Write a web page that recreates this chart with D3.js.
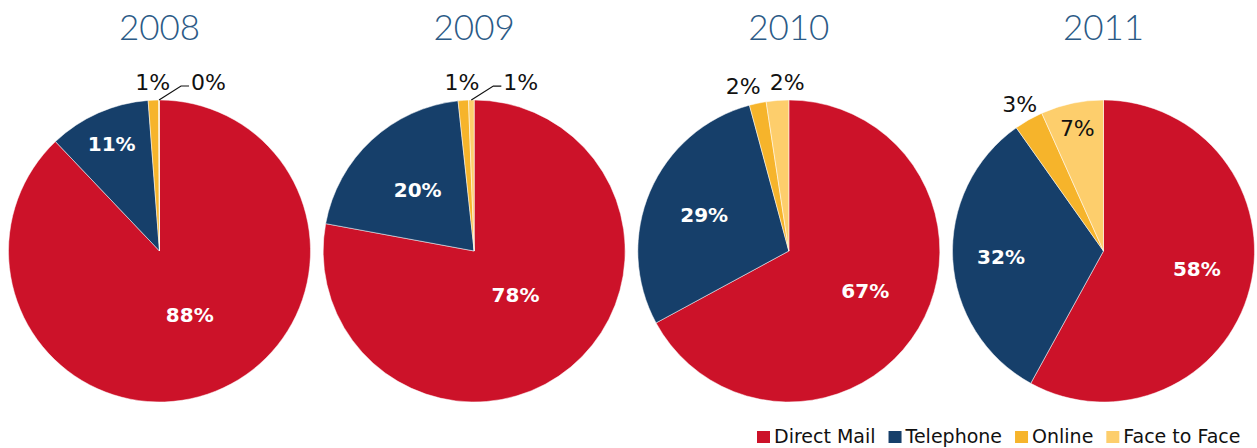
<!DOCTYPE html>
<html>
<head>
<meta charset="utf-8">
<script src="https://cdn.jsdelivr.net/npm/d3@7"></script>
<style>
  html, body { margin: 0; padding: 0; background: #fff; }
  svg { display: block; }
  .title { font-family: Lato, Roboto, "DejaVu Sans", sans-serif; font-weight: 300; font-size: 35px; fill: #2b5a86; }
  .lbl-in { font-family: "DejaVu Sans", sans-serif; font-weight: bold; font-size: 20px; fill: #fff; }
  .lbl-out { font-family: "DejaVu Sans", sans-serif; font-size: 22px; fill: #111; }
  .legend text { font-family: "DejaVu Sans", sans-serif; font-size: 19px; fill: #111; }
</style>
</head>
<body>
<svg id="chart" width="1257" height="448"></svg>
<script>
// data (percent shares, clockwise from 12 o'clock)
var years = ["2008", "2009", "2010", "2011"];
var channels = ["Direct Mail", "Telephone", "Online", "Face to Face"];
var share2008 = [87.9, 10.9, 1.1, 0.1];
var share2009 = [77.9, 20.4, 1.1, 0.6];
var share2010 = [67.1, 28.7, 1.8, 2.4];
var share2011 = [58.0, 32.2, 3.1, 6.7];
var shares = [share2008, share2009, share2010, share2011];

var colors = ["#cc1229", "#163f6a", "#f6b42b", "#fdce6c"];

// excel "best fit" radii for the big inside labels (fraction of radius)
var insideFrac = [[0.47, 0.78], [0.40, 0.55], [0.57, 0.61], [0.63, 0.68]];

var svg = d3.select("#chart");
var R = 151, cy = 251;

var x = d3.scalePoint().domain(years).range([159.5, 1103.5]);
var color = d3.scaleOrdinal().domain(channels).range(colors);

var pie = d3.pie().sort(null).value(function(d) { return d.v; });
var arc = d3.arc().innerRadius(0).outerRadius(R);

function polar(a, r) { return [r * Math.sin(a), -r * Math.cos(a)]; }

years.forEach(function(yr, yi) {
	var data = channels.map(function(c, i) { return {name: c, v: shares[yi][i]}; });
	var arcs = pie(data);
	var g = svg.append("g").attr("transform", "translate(" + x(yr) + "," + cy + ")");

	svg.append("text").attr("class", "title")
		.attr("x", x(yr)).attr("y", 40)
		.attr("text-anchor", "middle").text(yr);

	g.selectAll("path").data(arcs).enter().append("path")
		.attr("d", arc)
		.attr("fill", function(d) { return color(d.data.name); })
		.attr("stroke", "#fff").attr("stroke-width", 0.5);

	var outside = [];
	arcs.forEach(function(d, i) {
		var mid = (d.startAngle + d.endAngle) / 2;
		var pct = Math.round(d.data.v) + "%";
		var v = d.data.v;
		if (v >= 10) {
			// big slices: excel nudges the big one a bit toward 5 o'clock
			var a = i == 0 ? mid - 0.06 : mid;
			var p = polar(a, R * insideFrac[yi][i]);
			g.append("text").attr("class", "lbl-in")
				.attr("x", p[0]).attr("y", p[1]).attr("dy", "0.36em")
				.attr("text-anchor", "middle").text(pct);
		} else if (v >= 5) {
			var p = polar(mid, R * 0.83);
			g.append("text").attr("class", "lbl-out")
				.attr("x", p[0]).attr("y", p[1]).attr("dy", "0.36em")
				.attr("text-anchor", "middle").text(pct);
		} else if (v < 1) {
			// tiny slice: label pulled out with a leader line
			var e = polar(mid, R);
			var ex = e[0] + 22, ey = e[1] - 14;
			g.append("path")
				.attr("d", "M" + e[0] + "," + e[1] + "L" + ex + "," + ey + "H" + (ex + 8))
				.attr("fill", "none").attr("stroke", "#111").attr("stroke-width", 1.2);
			g.append("text").attr("class", "lbl-out")
				.attr("x", ex + 10).attr("y", ey - 4).attr("dy", "0.36em")
				.attr("text-anchor", "start").text(pct);
		} else {
			var p = polar(mid, R + 18);
			outside.push({x: p[0], y: p[1], t: pct});
		}
	});

	// push overlapping outside labels apart
	outside.sort(function(a, b) { return a.x - b.x; });
	for (var k = 1; k < outside.length; k++) {
		var gap = outside[k].x - outside[k - 1].x;
		if (gap < 44) {
			var s = (44 - gap) / 2;
			outside[k - 1].x -= s;
			outside[k].x += s;
		}
	}
	g.selectAll("text.lbl-o").data(outside).enter().append("text")
		.attr("class", "lbl-out lbl-o")
		.attr("x", function(d) { return d.x; })
		.attr("y", function(d) { return d.y; })
		.attr("dy", "0.36em")
		.attr("text-anchor", "middle")
		.text(function(d) { return d.t; });
});

// legend, bottom right
var legend = svg.append("g").attr("class", "legend");
var lx = 757;
channels.forEach(function(c) {
	var item = legend.append("g").attr("transform", "translate(" + lx + ",0)");
	item.append("rect").attr("x", 0).attr("y", 431).attr("width", 13).attr("height", 12)
		.attr("fill", color(c));
	var t = item.append("text").attr("x", 17).attr("y", 443).text(c);
	lx += 17 + t.node().getComputedTextLength() + 13;
});
</script>
</body>
</html>
